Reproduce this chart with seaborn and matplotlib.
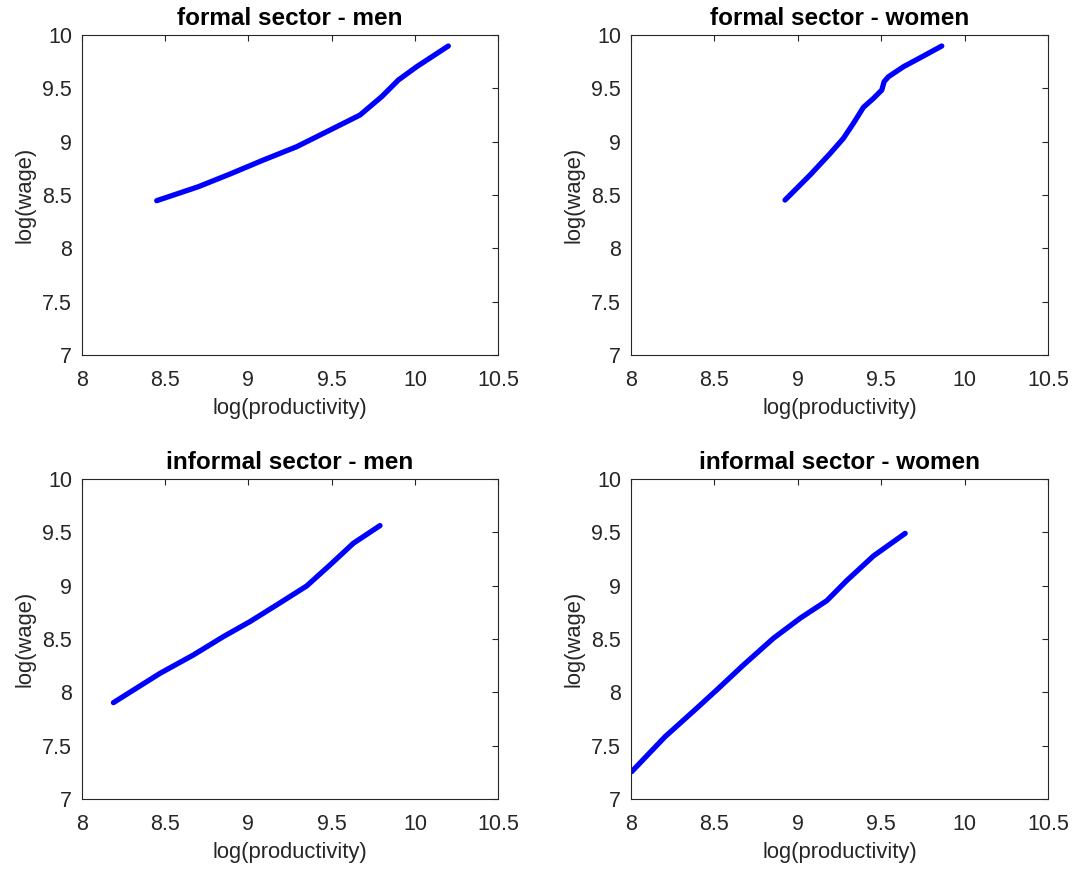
import pandas as pd
import matplotlib
matplotlib.use('Agg')
import matplotlib.pyplot as plt
import seaborn as sns

# formal sector - men
formal_men_x = [8.45, 8.70, 8.89, 9.09, 9.29, 9.49, 9.67, 9.80, 9.90, 10.01, 10.20]
formal_men_y = [8.447, 8.578, 8.697, 8.828, 8.953, 9.109, 9.25, 9.422, 9.578, 9.703, 9.897]

# formal sector - women
formal_women_x = [8.924, 9.074, 9.194, 9.273, 9.333, 9.393, 9.453, 9.503, 9.517, 9.543, 9.633, 9.752, 9.862]
formal_women_y = [8.453, 8.688, 8.89, 9.031, 9.172, 9.322, 9.406, 9.484, 9.563, 9.609, 9.703, 9.803, 9.897]

# informal sector - men
informal_men_x = [8.19, 8.47, 8.67, 8.85, 9.01, 9.17, 9.35, 9.49, 9.63, 9.79]
informal_men_y = [7.903, 8.178, 8.35, 8.522, 8.663, 8.819, 8.997, 9.194, 9.397, 9.563]

# informal sector - women
informal_women_x = [8.006, 8.206, 8.395, 8.515, 8.675, 8.854, 9.014, 9.174, 9.293, 9.453, 9.643]
informal_women_y = [7.256, 7.584, 7.85, 8.022, 8.256, 8.506, 8.694, 8.859, 9.047, 9.278, 9.49]

titles = ['formal sector - men', 'formal sector - women',
          'informal sector - men', 'informal sector - women']
xticks = [8, 8.5, 9, 9.5, 10, 10.5]
xticklabels = ['8', '8.5', '9', '9.5', '10', '10.5']
yticks = [7, 7.5, 8, 8.5, 9, 9.5, 10]
yticklabels = ['7', '7.5', '8', '8.5', '9', '9.5', '10']

sns.set_theme(style='white')
plt.rcParams['font.family'] = ['Liberation Sans', 'DejaVu Sans']
plt.rcParams['xtick.direction'] = 'in'
plt.rcParams['ytick.direction'] = 'in'

series = [(formal_men_x, formal_men_y), (formal_women_x, formal_women_y),
          (informal_men_x, informal_men_y), (informal_women_x, informal_women_y)]

fig = plt.figure(figsize=(10.77, 8.71), dpi=100)
positions = [[0.0759, 0.5924, 0.3868, 0.3674],
             [0.5856, 0.5924, 0.3878, 0.3674],
             [0.0759, 0.0827, 0.3868, 0.3674],
             [0.5856, 0.0827, 0.3878, 0.3674]]

grey = '#262626'
for pos, (xs, ys), title in zip(positions, series, titles):
    ax = fig.add_axes(pos)
    df = pd.DataFrame({'x': xs, 'y': ys})
    sns.lineplot(data=df, x='x', y='y', ax=ax, color='#0000ff', linewidth=3.8, sort=False)
    ax.set_xlim(8, 10.5)
    ax.set_ylim(7, 10)
    ax.set_xticks(xticks)
    ax.set_xticklabels(xticklabels)
    ax.set_yticks(yticks)
    ax.set_yticklabels(yticklabels)
    ax.tick_params(axis='both', which='both', top=True, right=True, length=4, width=0.8,
                   color=grey, labelcolor=grey, labelsize=15.5)
    ax.tick_params(axis='x', pad=11)
    ax.tick_params(axis='y', pad=7)
    for s in ax.spines.values():
        s.set_color(grey)
        s.set_linewidth(0.8)
    ax.set_xlabel('log(productivity)', fontsize=15.8, color=grey, labelpad=5)
    ax.set_ylabel('log(wage)', fontsize=15.8, color=grey, labelpad=5)
    ax.set_title(title, fontsize=17.5, fontweight='bold', color='black', pad=7)

fig.savefig('out.png', dpi=100)
